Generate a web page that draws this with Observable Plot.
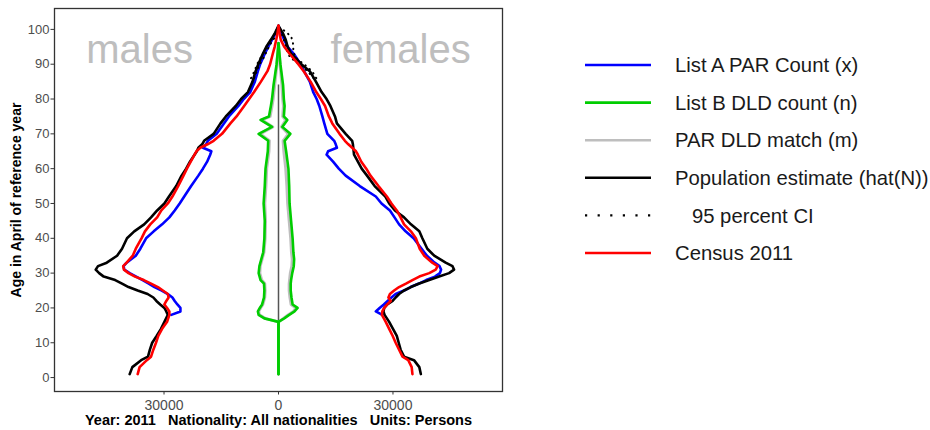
<!DOCTYPE html>
<html><head><meta charset="utf-8">
<script src="https://cdn.jsdelivr.net/npm/d3@7"></script>
<script src="https://cdn.jsdelivr.net/npm/@observablehq/plot@0.6"></script>
<style>
body{margin:0;background:#fff;font-family:"Liberation Sans",Arial,sans-serif}
#wrap{position:relative;width:930px;height:430px}
#chart{position:absolute;left:0;top:0}
#legend{position:absolute;left:530px;top:0}
g[aria-label="y-axis tick label"], g[aria-label="x-axis tick label"]{fill:#4d4d4d}
</style></head><body>
<div id="wrap"><div id="chart"></div><svg id="legend" width="400" height="430"></svg></div>
<script>
// ---- data ----
const agesMain = [1,3,5,6,8,10,12,14,16,18,19,20,21,22,23,24,25,26,27,28,29,30,31,32,33,35,37,40,42,44,46,48,50,52,55,58,60,62,64,65,66,67,68,70,73,75,78,80,82,85,88,90,93,95,97,99,101];

const maleEstimate = [39000,38300,36000,34200,33700,33100,31900,30800,29900,29000,29400,29900,31000,32000,32800,34300,36900,39300,41000,42800,45800,47000,47900,47300,45000,42300,41000,39700,37800,35200,33400,31800,29900,28700,26800,25400,24200,23200,22000,21400,21000,20000,19500,17000,15200,13800,11200,9800,8000,6800,6000,5300,4100,3200,2000,900,0];
const maleCensus = [36900,36400,34500,33400,32800,32100,31500,30500,29200,28600,28600,29200,29900,29400,28800,29000,30300,31600,33400,35300,37600,39300,40500,40700,39800,38200,37400,35900,35000,33600,31800,30700,29000,27800,26300,24900,24000,23000,22000,21500,20500,18600,17000,14800,12600,11000,9000,7700,6400,4600,2900,2200,1500,1000,600,250,0];
const malePAR = [null,null,null,null,null,null,null,null,null,28100,25700,25700,26500,27200,27800,29000,30600,32500,34000,35600,37300,39000,40400,40600,39800,37400,36200,34700,32700,30500,28600,27200,25900,24700,22900,21000,19800,18700,17900,17600,19800,19000,18500,16200,14300,13000,10500,9100,7400,6200,5400,4800,3600,2700,1700,700,0];

const femaleEstimate = [37300,36900,35500,32900,32000,31500,31000,30000,29000,27800,27500,27700,28500,29900,30700,31600,32900,34700,36900,39500,42100,44700,46000,45600,43800,40800,39000,37700,36900,34700,32900,30500,29000,28000,25200,23200,21800,20800,19800,19700,19600,19500,19300,17600,15300,14800,13600,12600,11300,9800,8200,6000,3300,2400,1900,1100,0];
const femaleCensus = [35100,34900,34000,32500,31600,30700,29900,29000,28100,27100,27200,27700,28500,29400,28800,29200,30300,31600,33400,35100,36900,39500,41200,41700,40300,38200,37000,36000,34700,32900,32000,31000,29600,28400,26200,24100,23000,21700,20800,20300,19300,18300,17400,16000,14100,13200,12200,11100,9900,8400,6600,5200,2900,1500,600,250,0];
const femalePAR = [null,null,null,null,null,null,null,null,null,27200,25500,26500,27600,28600,29600,30700,32900,34600,36800,38700,41000,42300,42600,42200,40900,38900,37500,35400,33300,31600,30400,29200,27000,25500,21300,17600,15800,14300,12600,13000,15300,15000,14600,12800,12000,11500,10700,10000,9100,8200,6700,5800,4000,2400,1500,700,0];

const agesDLD = [1,16,17,18,19,20,21,23,25,27,28,30,32,34,36,40,45,50,55,60,65,68,70,72,74,75,78,80,84,90,96];
const maleDLD = [0,0,3700,5200,5400,4900,4300,3800,3700,3800,4700,5200,5000,4500,4000,3700,3600,3900,3600,3400,2800,2700,5200,1700,4700,2500,2000,1700,1300,500,0];
const femaleDLD = [0,0,1500,2800,4200,5000,3700,3400,3200,3200,3300,3600,4000,4100,3900,3700,3300,2900,2800,2600,2000,1600,3100,1000,2300,1400,1600,1400,1200,500,0];
const maleMatch = [0,0,3500,5000,5200,4700,4100,3600,3500,3600,4400,4900,4800,4300,3800,3500,3400,3600,3300,3100,2500,2400,4800,1500,4300,2200,1700,1400,1000,400,0];
const femaleMatch = [0,0,1300,2500,3900,4600,3300,3000,2800,2800,2900,3100,3500,3600,3400,3200,2800,2400,2200,1900,1400,1200,2600,800,1900,1100,1300,1100,900,400,0];

const agesCI = [86,88,90,92,94,96,98,100];
const femaleCIupper = [9900,8800,6700,4300,3900,3800,3300,1100];
const femaleCIlower = [9200,7600,5400,3000,2200,1700,1100,300];
const maleCIupper = [7200,6300,5600,4600,3600,2600,1300,400];
const maleCIlower = [6400,5700,5000,3800,3000,2000,800,200];

const centerSpan = [1, 84];
const xTicks = [-30000, 0, 30000];
const yTicks = [0,10,20,30,40,50,60,70,80,90,100];
const sexLabels = ["males", "females"];
const sexLabelX = [-36400, 32000];
const sexLabelY = [94, 94];
const yTitle = "Age in April of reference year";
const caption = "Year: 2011\u00a0\u00a0\u00a0Nationality: All nationalities\u00a0\u00a0\u00a0Units: Persons";

const legendLabels = ["List A PAR Count (x)", "List B DLD count (n)", "PAR DLD match (m)", "Population estimate (hat(N))", "\u00a0\u00a0\u00a095 percent CI", "Census 2011"];
const legendColors = ["#0000ff", "#00cd00", "#bebebe", "#000000", "#000000", "#ff0000"];
const legendDotted = [false, false, false, false, true, false];

// ---- build ----
const rows = (ages, vals, sign) => ages.map((a, i) => ({age: a, v: vals[i] == null ? null : sign * vals[i]})).filter(d => d.v != null);

const lineOf = (ages, vals, sign, stroke, w, extra = {}) =>
  Plot.line(rows(ages, vals, sign), {x: "v", y: "age", stroke, strokeWidth: w, strokeLinejoin: "round", ...extra});

const labelsData = sexLabels.map((s, i) => ({s, x: sexLabelX[i], y: sexLabelY[i]}));
const dots = {strokeDasharray: "0.5,5", strokeLinecap: "round"};

const chart = Plot.plot({
  width: 520, height: 430,
  marginLeft: 54, marginRight: 18, marginTop: 8, marginBottom: 39,
  style: {fontFamily: "'Liberation Sans', Arial, sans-serif", background: "#fff"},
  x: {domain: [-58700, 58700]},
  y: {domain: [-4, 106]},
  marks: [
    Plot.frame({stroke: "#333", strokeWidth: 1.3}),
    Plot.axisY(yTicks, {tickSize: 3.5, tickPadding: 1.5, fontSize: 13, label: null, stroke: "#333"}),
    Plot.axisX(xTicks, {tickSize: 3.5, tickPadding: 5.5, fontSize: 14, label: null, stroke: "#333", tickFormat: d => String(Math.abs(d))}),
    Plot.ruleX([0], {y1: () => centerSpan[0], y2: () => centerSpan[1], stroke: "#555", strokeWidth: 1.5}),
    lineOf(agesDLD, maleMatch, -1, "#bebebe", 3),
    lineOf(agesDLD, femaleMatch, 1, "#bebebe", 3),
    lineOf(agesDLD, maleDLD, -1, "#00cd00", 2.6),
    lineOf(agesDLD, femaleDLD, 1, "#00cd00", 2.6),
    lineOf(agesMain, malePAR, -1, "#0000ff", 2.6),
    lineOf(agesMain, femalePAR, 1, "#0000ff", 2.6),
    lineOf(agesMain, maleEstimate, -1, "#000000", 2.6),
    lineOf(agesMain, femaleEstimate, 1, "#000000", 2.6),
    lineOf(agesCI, maleCIupper, -1, "#000000", 2, dots),
    lineOf(agesCI, maleCIlower, -1, "#000000", 2, dots),
    lineOf(agesCI, femaleCIupper, 1, "#000000", 2, dots),
    lineOf(agesCI, femaleCIlower, 1, "#000000", 2, dots),
    lineOf(agesMain, maleCensus, -1, "#ff0000", 2.6),
    lineOf(agesMain, femaleCensus, 1, "#ff0000", 2.6),
    Plot.text(labelsData, {x: "x", y: "y", text: "s", fontSize: 40, fill: "#bebebe"}),
    Plot.text([yTitle], {frameAnchor: "left", textAnchor: "middle", rotate: -90, dx: -38, fontWeight: "bold", fontSize: 14, fill: "#000"}),
    Plot.text([caption], {x: () => 0, frameAnchor: "bottom", dy: 33.5, fontWeight: "bold", fontSize: 14.5, fill: "#000"})
  ]
});
document.getElementById("chart").append(chart);

// ---- legend ----
const lg = d3.select("#legend");
const rowY = i => 65 + i * 37.6;
legendLabels.forEach((lab, i) => {
  lg.append("line")
    .attr("x1", 55).attr("x2", 121).attr("y1", rowY(i)).attr("y2", rowY(i))
    .attr("stroke", legendColors[i]).attr("stroke-width", legendDotted[i] ? 2.2 : 2.6)
    .attr("stroke-dasharray", legendDotted[i] ? "2.2,10.4" : null);
  lg.append("text")
    .attr("x", 145).attr("y", rowY(i)).attr("dy", "0.35em")
    .attr("font-size", 20.3).attr("fill", "#1a1a1a")
    .attr("font-family", "'Liberation Sans', Arial, sans-serif")
    .text(lab);
});
</script>
</body></html>
